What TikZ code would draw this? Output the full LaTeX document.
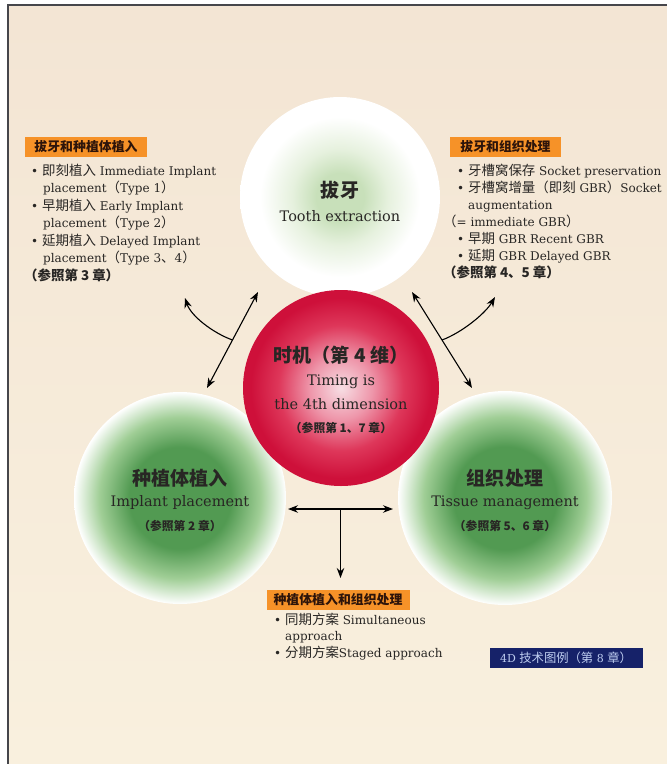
\documentclass[tikz,border=0pt]{standalone}
\usepackage{fontspec}
\setmainfont{DejaVu Serif}
\newfontfamily\cjk{Noto Sans CJK SC}[Scale=1.12]
\usetikzlibrary{arrows.meta}
\newcommand\zh[1]{{\cjk #1}}
\newcommand\bul{\makebox[11pt][l]{•}}
\definecolor{bgtop}{RGB}{243,229,212}
\definecolor{bgbot}{RGB}{249,240,222}
\definecolor{framecol}{RGB}{70,70,75}
\definecolor{orng}{RGB}{246,146,40}
\definecolor{hdrtxt}{RGB}{45,20,10}
\definecolor{txt}{RGB}{40,38,36}
\definecolor{navy}{RGB}{22,34,105}
\definecolor{lblue}{RGB}{190,205,240}
\definecolor{gA}{RGB}{82,154,82}
\definecolor{gB}{RGB}{160,206,150}
\definecolor{tA}{RGB}{200,224,186}
\definecolor{tB}{RGB}{230,241,222}
\definecolor{rA}{RGB}{247,222,228}
\definecolor{rB}{RGB}{238,150,170}
\definecolor{rC}{RGB}{222,55,90}
\definecolor{rD}{RGB}{206,16,58}
\pgfdeclareradialshading{greenball}{\pgfpoint{0bp}{0bp}}{color(0bp)=(gA); color(12bp)=(gA); color(19bp)=(gB); color(25bp)=(white); color(50bp)=(white)}
\pgfdeclareradialshading{topball}{\pgfpoint{0bp}{0bp}}{color(0bp)=(tA); color(6bp)=(tA); color(12bp)=(tB); color(20bp)=(white); color(50bp)=(white)}
\pgfdeclareradialshading{redball}{\pgfpoint{0bp}{0bp}}{color(0bp)=(rA); color(8bp)=(rB); color(16bp)=(rC); color(23bp)=(rD); color(50bp)=(rD)}
\tikzset{
  ball/.style={circle, inner sep=0pt, shade},
  ctitle/.style={anchor=base, inner sep=0pt, font=\fontsize{17}{19}\selectfont\bfseries\cjk, text=txt},
  csub/.style={anchor=base, inner sep=0pt, font=\fontsize{14.5}{16}\selectfont, text=txt},
  cref/.style={anchor=base, inner sep=0pt, font=\fontsize{10.5}{12}\selectfont\bfseries, text=txt},
  body/.style={anchor=base west, inner sep=0pt, font=\fontsize{12}{14}\selectfont, text=txt},
  bref/.style={body, font=\fontsize{12}{14}\selectfont\bfseries},
  hdr/.style={fill=orng, inner sep=0pt, minimum height=20pt, font=\fontsize{11.5}{13}\selectfont\bfseries\cjk, text=hdrtxt},
  conn/.style={line width=1.1pt, black}
}
\begin{document}
\begin{tikzpicture}[x=1pt, y=-1pt, >={Stealth[length=10pt,width=7.5pt]}]
\useasboundingbox (0,0) rectangle (667,764);
\fill[white] (0,0) rectangle (667,764);
\shade[top color=bgtop, bottom color=bgbot] (8,5) rectangle (667,764);
\draw[framecol, line width=1.6pt] (8,764) -- (8,5) -- (667,5);

% circles
\node[ball, shading=topball, minimum size=200pt] (ext) at (340,197) {};
\node[ball, shading=greenball, minimum size=212pt] (imp) at (180,498) {};
\node[ball, shading=greenball, minimum size=214pt] (tis) at (505,498) {};
\node[ball, shading=redball, minimum size=196pt] (tim) at (341,388) {};

% circle texts
\node[ctitle] (ext-t) at (340,197) {拔牙};
\node[csub] (ext-s) at (340,221) {Tooth extraction};

\node[ctitle] (tim-t) at (341,362) {时机（第 4 维）};
\node[csub] (tim-s1) at (341,385) {Timing is};
\node[csub] (tim-s2) at (341,409) {the 4th dimension};
\node[cref] (tim-r) at (341,432) {\zh{（参照第 1、7 章）}};

\node[ctitle] (imp-t) at (180,485) {种植体植入};
\node[csub] (imp-s) at (180,506) {Implant placement};
\node[cref] (imp-r) at (180,530) {\zh{（参照第 2 章）}};

\node[ctitle] (tis-t) at (505,485) {组织处理};
\node[csub] (tis-s) at (505,506) {Tissue management};
\node[cref] (tis-r) at (505,530) {\zh{（参照第 5、6 章）}};

% top-left block
\node[hdr, minimum width=122pt] (h1) at (86,147) {拔牙和种植体植入};
\node[body] (l1) at (31,175) {\bul\zh{即刻植入} Immediate Implant};
\node[body] (l2) at (43,192.5) {placement\zh{（}Type 1\zh{）}};
\node[body] (l3) at (31,210) {\bul\zh{早期植入} Early Implant};
\node[body] (l4) at (43,227.5) {placement\zh{（}Type 2\zh{）}};
\node[body] (l5) at (31,245) {\bul\zh{延期植入} Delayed Implant};
\node[body] (l6) at (43,262.5) {placement\zh{（}Type 3\zh{、}4\zh{）}};
\node[bref] (l7) at (24,280) {\zh{（参照第 3 章）}};

% top-right block
\node[hdr, minimum width=111pt] (h2) at (505.5,147) {拔牙和组织处理};
\node[body] (r1) at (457,175) {\bul\zh{牙槽窝保存} Socket preservation};
\node[body] (r2) at (457,192) {\bul\zh{牙槽窝增量（即刻} GBR\zh{）}Socket};
\node[body] (r3) at (468,209.5) {augmentation};
\node[body] (r4) at (443,226.5) {\zh{（}= immediate GBR\zh{）}};
\node[body] (r5) at (457,243.5) {\bul\zh{早期} GBR Recent GBR};
\node[body] (r6) at (457,260.5) {\bul\zh{延期} GBR Delayed GBR};
\node[bref] (r7) at (443,277.5) {\zh{（参照第 4、5 章）}};

% bottom block
\node[hdr, minimum width=143pt] (h3) at (338,600) {种植体植入和组织处理};
\node[body] (b1) at (274,624) {\bul\zh{同期方案} Simultaneous};
\node[body] (b2) at (285,640.5) {approach};
\node[body] (b3) at (274,657) {\bul\zh{分期方案}Staged approach};

% legend label
\node[fill=navy, minimum width=153pt, minimum height=20pt, inner sep=0pt, text=lblue, font=\fontsize{11}{13}\selectfont] (leg) at (566,658) {4D \zh{技术图例（第} 8 \zh{章）}};

% connectors
\coordinate (a1) at (207,388);
\coordinate (a2) at (258,292);
\coordinate (ja) at (232.5,340);
\coordinate (ca) at (185,298);
\draw[conn, <->] (a1) -- (a2);
\draw[conn, ->] (ja) .. controls (213,333) and (191,316) .. (ca);

\coordinate (b1c) at (412,292);
\coordinate (b2c) at (472,388);
\coordinate (jb) at (442,340);
\coordinate (cb) at (495,297);
\draw[conn, <->] (b1c) -- (b2c);
\draw[conn, ->] (jb) .. controls (461,333) and (485,314) .. (cb);

\coordinate (hl) at (288,509);
\coordinate (hr) at (393,509);
\coordinate (jc) at (340.5,509);
\coordinate (vd) at (340.5,578);
\draw[conn, <->] (hl) -- (hr);
\draw[conn, ->] (jc) -- (vd);
\end{tikzpicture}
\end{document}
